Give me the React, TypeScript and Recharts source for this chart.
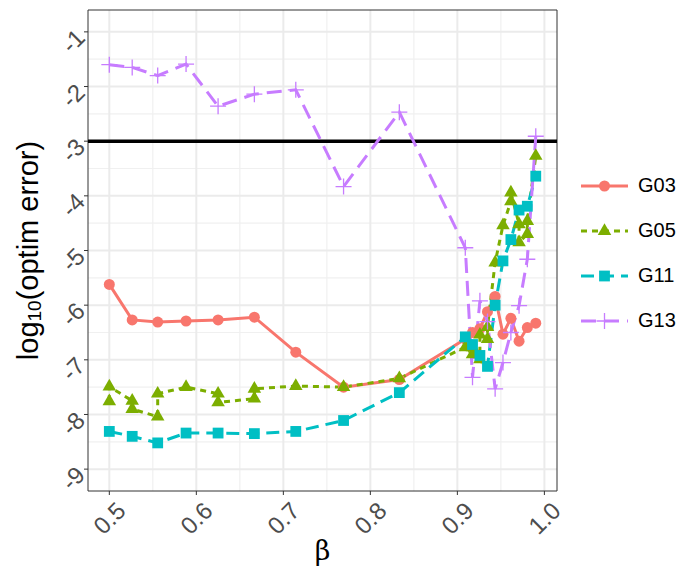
import React from 'react';
import {
  LineChart,
  Line,
  XAxis,
  YAxis,
  CartesianGrid,
  ReferenceLine,
  ReferenceArea,
} from 'recharts';

// beta = 1/(2 - 0.1k) ... 1/1.01
const betaAll = [
  0.5, 0.5263, 0.5556, 0.5882, 0.625, 0.6667, 0.7143, 0.7692, 0.8333,
  0.9091, 0.9174, 0.9259, 0.9346, 0.9434, 0.9524, 0.9615, 0.9709, 0.9804, 0.9901,
];
const g03Values = [
  -5.62, -6.27, -6.31, -6.29, -6.27, -6.22, -6.86, -7.5, -7.36,
  -6.62, -6.5, -6.43, -6.12, -5.84, -6.53, -6.24, -6.66, -6.41, -6.33,
];
const g11Values = [
  -8.31, -8.4, -8.52, -8.34, -8.34, -8.35, -8.31, -8.11, -7.6,
  -6.58, -6.72, -6.92, -7.12, -6.0, -5.19, -4.8, -4.26, -4.19, -3.64,
];
const g13Values = [
  -1.6, -1.65, -1.8, -1.59, -2.36, -2.14, -2.06, -3.83, -2.47,
  -4.95, -7.32, -5.92, -6.3, -7.53, -7.05, -6.5, -6.01, -5.16, -2.91,
];
// G05 has two runs at several beta values
const g05Beta = [
  0.5, 0.5, 0.5263, 0.5263, 0.5556, 0.5556, 0.5882, 0.625, 0.625, 0.6667, 0.6667,
  0.7143, 0.7692, 0.8333, 0.9091, 0.9174, 0.9174, 0.9259, 0.9259, 0.9346, 0.9346,
  0.9434, 0.9524, 0.9615, 0.9615, 0.9709, 0.9709, 0.9804, 0.9804, 0.9901,
];
const g05Values = [
  -7.76, -7.49, -7.75, -7.9, -8.04, -7.62, -7.5, -7.62, -7.78, -7.71, -7.53,
  -7.48, -7.5, -7.34, -6.77, -6.9, -6.77, -6.99, -6.54, -6.62, -6.4,
  -5.22, -4.54, -4.1, -3.94, -4.52, -4.85, -4.7, -4.46, -3.27,
];

const xTicks = [0.5, 0.6, 0.7, 0.8, 0.9, 1.0];
const xMinor = [0.55, 0.65, 0.75, 0.85, 0.95];
const yTicks = [-9, -8, -7, -6, -5, -4, -3, -2, -1];
const yMinor = [-8.5, -7.5, -6.5, -5.5, -4.5, -3.5, -2.5, -1.5];
const thresholdLine = -3;

const font = '"Liberation Sans", Arial, sans-serif';

const toPoints = (xs: number[], ys: number[]) => xs.map((b, i) => ({ beta: b, v: ys[i] }));

type Shape = 'circle' | 'triangle' | 'square' | 'plus';

const series = [
  { name: 'G03', color: '#F8766D', dash: undefined, shape: 'circle' as Shape, data: toPoints(betaAll, g03Values) },
  { name: 'G05', color: '#7CAE00', dash: '6 5', shape: 'triangle' as Shape, data: toPoints(g05Beta, g05Values) },
  { name: 'G11', color: '#00BFC4', dash: '13 7', shape: 'square' as Shape, data: toPoints(betaAll, g11Values) },
  { name: 'G13', color: '#C77CFF', dash: '15 8', shape: 'plus' as Shape, data: toPoints(betaAll, g13Values) },
];

function Marker({ shape, cx, cy, color }: { shape: Shape; cx: number; cy: number; color: string }) {
  if (cx == null || cy == null) return null;
  if (shape === 'circle') return <circle cx={cx} cy={cy} r={5.5} fill={color} />;
  if (shape === 'triangle') {
    const r = 7.8;
    const hx = r * 0.866;
    return <polygon points={`${cx},${cy - r} ${cx + hx},${cy + r / 2} ${cx - hx},${cy + r / 2}`} fill={color} />;
  }
  if (shape === 'square') return <rect x={cx - 5.4} y={cy - 5.4} width={10.8} height={10.8} fill={color} />;
  return (
    <path d={`M${cx - 8},${cy}H${cx + 8}M${cx},${cy - 8}V${cy + 8}`} stroke={color} strokeWidth={1.3} fill="none" />
  );
}

const XTick = (props: any) => {
  const { x, y, payload } = props;
  const cy = y + 21;
  return (
    <text
      x={x}
      y={cy}
      transform={`rotate(-45 ${x} ${cy})`}
      textAnchor="middle"
      dominantBaseline="central"
      style={{ fill: '#4d4d4d', fontSize: 24, fontFamily: font }}
    >
      {Number(payload.value).toFixed(1)}
    </text>
  );
};

const YTick = (props: any) => {
  const { x, y, payload } = props;
  const cx = x - 9;
  const cy = y + 9;
  return (
    <text
      x={cx}
      y={cy}
      transform={`rotate(-45 ${cx} ${cy})`}
      textAnchor="middle"
      dominantBaseline="central"
      style={{ fill: '#4d4d4d', fontSize: 24, fontFamily: font }}
    >
      {payload.value}
    </text>
  );
};

function ChartLegend() {
  return (
    <div style={{ position: 'absolute', left: 581, top: 163, display: 'flex', flexDirection: 'column' }}>
      {series.map((s) => (
        <div key={s.name} style={{ display: 'flex', alignItems: 'center', height: 45 }}>
          <svg width={50} height={24}>
            <line x1={0} x2={47} y1={12} y2={12} stroke={s.color} strokeWidth={3} strokeDasharray={s.dash} />
            <Marker shape={s.shape} cx={23.5} cy={12} color={s.color} />
          </svg>
          <span style={{ marginLeft: 7, fontSize: 20, fontFamily: font, color: '#000' }}>{s.name}</span>
        </div>
      ))}
    </div>
  );
}

export default function App(): React.ReactElement {
  return (
    <div style={{ position: 'absolute', left: 0, top: 0, width: 680, height: 566, background: '#fff' }}>
      <LineChart width={680} height={566} margin={{ top: 10, right: 123, bottom: 25, left: 28 }}>
        <CartesianGrid stroke="#f0f0f0" strokeWidth={1.2} horizontalValues={yMinor} verticalValues={xMinor} />
        <CartesianGrid stroke="#ebebeb" strokeWidth={2} horizontalValues={yTicks} verticalValues={xTicks} />
        <XAxis
          type="number"
          dataKey="beta"
          domain={[0.4755, 1.0145]}
          ticks={xTicks}
          allowDataOverflow
          height={50}
          axisLine={false}
          tickSize={4}
          tickLine={{ stroke: '#333', strokeWidth: 1 }}
          tick={<XTick />}
        />
        <YAxis
          type="number"
          domain={[-9.4, -0.6]}
          ticks={yTicks}
          allowDataOverflow
          width={60}
          axisLine={false}
          tickSize={4}
          tickLine={{ stroke: '#333', strokeWidth: 1 }}
          tick={<YTick />}
        />
        <ReferenceLine y={thresholdLine} stroke="#000" strokeWidth={3.5} />
        {series.map((s) => (
          <Line
            key={s.name}
            data={s.data}
            dataKey="v"
            type="linear"
            stroke={s.color}
            strokeWidth={3}
            strokeDasharray={s.dash}
            isAnimationActive={false}
            activeDot={false}
            dot={(p: any) => <Marker key={`${s.name}-${p.index}`} shape={s.shape} cx={p.cx} cy={p.cy} color={s.color} />}
          />
        ))}
        <ReferenceArea x1={0.4755} x2={1.0145} y1={-9.4} y2={-0.6} fill="none" stroke="#333" strokeWidth={1} fillOpacity={0} />
      </LineChart>
      <ChartLegend />
      <svg width={680} height={566} style={{ position: 'absolute', left: 0, top: 0, pointerEvents: 'none' }}>
        <text
          x={28}
          y={250.5}
          transform="rotate(-90 28 250.5)"
          textAnchor="middle"
          dominantBaseline="central"
          fontSize={29}
          fontFamily={font}
          fill="#000"
        >
          log<tspan fontSize={19} dy={6}>10</tspan>
          <tspan dy={-6}>(optim error)</tspan>
        </text>
        <text
          x={322.5}
          y={550}
          textAnchor="middle"
          dominantBaseline="central"
          fontSize={27}
          fontFamily='"DejaVu Serif", "Liberation Serif", serif'
          fill="#000"
        >
          β
        </text>
      </svg>
    </div>
  );
}
